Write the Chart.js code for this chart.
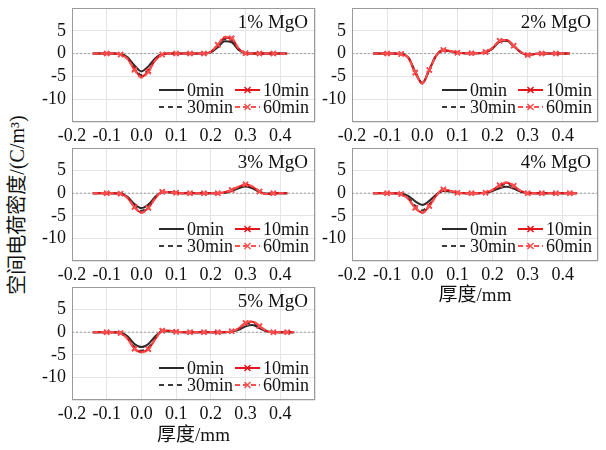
<!DOCTYPE html>
<html>
<head>
<meta charset="utf-8">
<script src="https://cdn.jsdelivr.net/npm/chart.js@4.4.1/dist/chart.umd.min.js"></script>
<style>
body { margin: 0; background: #fff; width: 606px; height: 450px; position: relative; overflow: hidden; }
canvas { position: absolute; }
#ytitle {
    position: absolute; left: 15px; top: 205px;
    transform: translate(-50%, -50%) rotate(-90deg);
    white-space: nowrap; font: 20px 'Liberation Serif', 'Noto Sans CJK SC'; color: #111;
}
</style>
</head>
<body>
<div id="ytitle">空间电荷密度/(C/m³)</div>
<canvas id="c1"></canvas>
<canvas id="c2"></canvas>
<canvas id="c3"></canvas>
<canvas id="c4"></canvas>
<canvas id="c5"></canvas>
<script>
// 厚度 (mm) — общая сетка по x
const thickness = [-0.14, -0.12, -0.10, -0.08, -0.06, -0.04, -0.02, 0.00, 0.02, 0.04,
                    0.06, 0.08, 0.10, 0.12, 0.14, 0.16, 0.18, 0.20, 0.22, 0.24,
                    0.26, 0.28, 0.30, 0.32, 0.34, 0.36, 0.38, 0.40, 0.42, 0.44];

const seriesLabels = ['0min', '10min', '30min', '60min'];
const panelNames = ['1% MgO', '2% MgO', '3% MgO', '4% MgO', '5% MgO'];

// 1% MgO
const mgo1_0min  = [0,0,0,0,-0.1,-0.8,-2.6,-3.9,-2.8,-1.0,-0.1,0,0,0,0,0,0,0.3,1.4,2.7,2.5,0.8,0.1,0,0,0,0,0,0];
const mgo1_10min = [0,0,0,0,-0.2,-1.1,-3.4,-5.1,-3.8,-1.4,-0.2,0,0,0,0,0,0,0.4,1.9,3.5,3.3,1.1,0.1,0,0,0,0,0,0];
const mgo1_30min = [0,0,0,0,-0.1,-1.0,-3.1,-4.7,-3.5,-1.2,-0.1,0,0,0,0,0,0,0.3,1.7,3.2,3.0,1.0,0.1,0,0,0,0,0,0];
const mgo1_60min = [0,0,0,0,-0.2,-1.2,-3.6,-5.3,-4.0,-1.5,-0.2,0,0,0,0,0,0,0.4,2.0,3.7,3.4,1.2,0.1,0,0,0,0,0,0];

// 2% MgO
const mgo2_0min  = [0,0,0,0,-0.1,-0.8,-4.0,-6.4,-3.5,-0.4,0.7,0.5,0.2,0.1,0.1,0.1,0.3,1.1,2.6,2.8,1.6,0.3,-0.3,-0.1,0,0,0,0,0];
const mgo2_10min = [0,0,0,0,-0.1,-0.9,-4.2,-6.6,-3.6,-0.4,0.8,0.5,0.2,0.1,0.1,0.1,0.3,1.2,2.8,3.0,1.7,0.3,-0.3,-0.1,0,0,0,0,0];
const mgo2_30min = [0,0,0,0,-0.1,-0.8,-4.1,-6.5,-3.5,-0.4,0.7,0.5,0.2,0.1,0.1,0.1,0.3,1.2,2.7,2.9,1.7,0.4,-0.2,-0.1,0,0,0,0,0];
const mgo2_60min = [0,0,0,0,-0.1,-0.9,-4.1,-6.5,-3.6,-0.5,0.8,0.6,0.2,0.1,0.1,0.1,0.4,1.3,2.8,3.0,1.8,0.4,-0.3,-0.1,0,0,0,0,0];

// 3% MgO
const mgo3_0min  = [0,0,0,0,-0.1,-0.8,-2.4,-3.3,-2.5,-0.8,0.2,0.2,0.1,0,0,0,0,0,0,0.1,0.5,1.1,1.5,1.1,0.3,-0.1,0,0,0];
const mgo3_10min = [0,0,0,0,-0.1,-1.0,-3.0,-4.3,-3.2,-1.1,0.3,0.2,0.1,0,0,0,0,0,0,0.2,0.7,1.4,1.9,1.4,0.4,-0.2,0,0,0];
const mgo3_30min = [0,0,0,0,-0.1,-0.9,-2.8,-3.9,-2.9,-1.0,0.2,0.2,0.1,0,0,0,0,0,0,0.1,0.6,1.3,1.7,1.3,0.4,-0.1,0,0,0];
const mgo3_60min = [0,0,0,0,-0.1,-1.1,-3.1,-4.4,-3.3,-1.2,0.3,0.2,0.1,0,0,0,0,0,0,0.2,0.7,1.5,2.0,1.5,0.4,-0.2,0,0,0];

// 4% MgO
const mgo4_0min  = [0,0,0,0,-0.1,-0.6,-1.8,-2.6,-1.7,-0.3,0.5,0.4,0.1,0,0,0,0.1,0.5,1.1,1.4,1.0,0.3,0,0,0,0,0,0,0,0];
const mgo4_10min = [0,0,0,0,-0.2,-1.2,-3.2,-4.3,-2.8,-0.5,0.8,0.5,0.1,0,0,0,0.1,0.7,1.7,2.3,1.6,0.5,0,0,0,0,0,0,0,0];
const mgo4_30min = [0,0,0,0,-0.1,-1.0,-2.8,-3.8,-2.5,-0.4,0.7,0.5,0.1,0,0,0,0.1,0.6,1.5,2.0,1.4,0.4,0,0,0,0,0,0,0,0];
const mgo4_60min = [0,0,0,0,-0.2,-1.3,-3.3,-4.4,-2.9,-0.6,0.9,0.5,0.1,0,0,0,0.1,0.8,1.8,2.4,1.7,0.5,0,0,0,0,0,0,0,0];

// 5% MgO
const mgo5_0min  = [0,0,0,0,-0.1,-0.9,-2.6,-3.3,-2.6,-0.9,0.2,0.2,0.1,0,0,0,0,0,0,0,0.1,0.5,1.3,1.6,0.9,0.2,0,0,0,0];
const mgo5_10min = [0,0,0,0,-0.2,-1.4,-3.6,-4.4,-3.7,-1.5,0.3,0.3,0.1,0,0,0,0,0,0,0,0.2,0.8,2.0,2.3,1.3,0.3,0,0,0,0];
const mgo5_30min = [0,0,0,0,-0.1,-1.2,-3.3,-4.1,-3.4,-1.3,0.3,0.3,0.1,0,0,0,0,0,0,0,0.2,0.7,1.8,2.1,1.2,0.3,0,0,0,0];
const mgo5_60min = [0,0,0,0,-0.2,-1.5,-3.7,-4.5,-3.8,-1.6,0.4,0.3,0.1,0,0,0,0,0,0,0,0.2,0.9,2.1,2.4,1.4,0.3,0,0,0,0];

const panelSeries = [
    [mgo1_0min, mgo1_10min, mgo1_30min, mgo1_60min],
    [mgo2_0min, mgo2_10min, mgo2_30min, mgo2_60min],
    [mgo3_0min, mgo3_10min, mgo3_30min, mgo3_60min],
    [mgo4_0min, mgo4_10min, mgo4_30min, mgo4_60min],
    [mgo5_0min, mgo5_10min, mgo5_30min, mgo5_60min]
];

// стиль линий: 0min, 10min, 30min, 60min
const lineStyles = [
    { color: '#2b2b2b', dash: [],     marker: false, order: 4 },
    { color: '#e3161c', dash: [],     marker: true,  order: 2 },
    { color: '#3a3a3a', dash: [5, 4], marker: false, order: 3 },
    { color: '#ff5050', dash: [5, 3], marker: true,  order: 1 }
];

// положение канвасов и области графика
const layouts = [
    { left: 0,   top: 0,   w: 320, h: 145, yw: 72, xh: 23, pt: 8, pr: 5 },
    { left: 310, top: 0,   w: 292, h: 145, yw: 42, xh: 23, pt: 8, pr: 4 },
    { left: 0,   top: 140, w: 320, h: 145, yw: 72, xh: 24, pt: 8, pr: 5 },
    { left: 310, top: 140, w: 292, h: 170, yw: 42, xh: 49, pt: 8, pr: 4, title: true },
    { left: 0,   top: 280, w: 320, h: 170, yw: 72, xh: 50, pt: 7, pr: 5, title: true }
];

const serif = "'Liberation Serif', 'Noto Sans CJK SC'";

// рамка, пунктир на нуле, подпись панели и легенда внутри области
const panelDecor = {
    id: 'panelDecor',
    beforeDatasetsDraw(chart) {
        const { ctx, chartArea: a, scales } = chart;
        const y0 = scales.y.getPixelForValue(0);
        ctx.save();
        ctx.strokeStyle = '#a0a0a0';
        ctx.lineWidth = 1;
        ctx.setLineDash([2, 2]);
        ctx.beginPath();
        ctx.moveTo(a.left, y0);
        ctx.lineTo(a.right, y0);
        ctx.stroke();
        ctx.restore();
    },
    afterDraw(chart, args, opts) {
        const { ctx, chartArea: a } = chart;
        ctx.save();
        ctx.strokeStyle = '#9a9a9a';
        ctx.lineWidth = 1;
        ctx.strokeRect(a.left + 0.5, a.top + 0.5, a.right - a.left - 1, a.bottom - a.top - 1);

        ctx.fillStyle = '#111';
        ctx.font = '19px ' + serif;
        ctx.textAlign = 'right';
        ctx.textBaseline = 'middle';
        ctx.fillText(opts.text, a.right - 7, a.top + 15);

        ctx.font = '18px ' + serif;
        ctx.textAlign = 'left';
        chart.data.datasets.forEach((ds, i) => {
            const col = i % 2, row = Math.floor(i / 2);
            const y = a.bottom - (row === 0 ? 32 : 15);
            const x1 = col === 0 ? a.right - 156 : a.right - 80;
            const x2 = x1 + 25;
            ctx.strokeStyle = ds.borderColor;
            ctx.lineWidth = 2;
            ctx.setLineDash(ds.borderDash);
            ctx.beginPath();
            ctx.moveTo(x1, y);
            ctx.lineTo(x2, y);
            ctx.stroke();
            ctx.setLineDash([]);
            if (ds.pointStyle === 'crossRot') {
                const cx = (x1 + x2) / 2, r = 3;
                ctx.lineWidth = 1.5;
                ctx.beginPath();
                ctx.moveTo(cx - r, y - r); ctx.lineTo(cx + r, y + r);
                ctx.moveTo(cx - r, y + r); ctx.lineTo(cx + r, y - r);
                ctx.stroke();
            }
            ctx.fillStyle = '#111';
            ctx.fillText(ds.label, x2 + 3, y + 1);
        });
        ctx.restore();
    }
};

const charts = panelSeries.map((series, p) => {
    const L = layouts[p];
    const cv = document.getElementById('c' + (p + 1));
    cv.style.left = L.left + 'px';
    cv.style.top = L.top + 'px';
    cv.style.width = L.w + 'px';
    cv.style.height = L.h + 'px';
    cv.width = L.w;
    cv.height = L.h;

    const datasets = series.map((vals, s) => ({
        label: seriesLabels[s],
        data: vals.map((v, i) => ({ x: thickness[i], y: v })),
        borderColor: lineStyles[s].color,
        backgroundColor: lineStyles[s].color,
        borderWidth: 2,
        borderDash: lineStyles[s].dash,
        order: lineStyles[s].order,
        cubicInterpolationMode: 'monotone',
        pointStyle: lineStyles[s].marker ? 'crossRot' : false,
        pointBorderWidth: 1.5,
        pointRadius: lineStyles[s].marker
            ? (c => (c.dataIndex % 2 === 0 && c.dataIndex > 0 && c.dataIndex < vals.length - 1) ? 3.5 : 0)
            : 0,
        fill: false
    }));

    return new Chart(cv, {
        type: 'line',
        data: { datasets },
        plugins: [panelDecor],
        options: {
            responsive: false,
            animation: false,
            events: [],
            layout: { padding: { top: L.pt, right: L.pr, left: 0, bottom: 0 } },
            plugins: {
                legend: { display: false },
                tooltip: { enabled: false },
                panelDecor: { text: panelNames[p] }
            },
            scales: {
                x: {
                    type: 'linear',
                    min: -0.2,
                    max: 0.5,
                    afterFit: s => { s.height = L.xh; s.paddingLeft = 0; s.paddingRight = 0; },
                    border: { display: false },
                    grid: { color: '#e4e4e4', drawTicks: false },
                    ticks: {
                        stepSize: 0.1,
                        autoSkip: false,
                        maxRotation: 0,
                        padding: 3,
                        color: '#111',
                        font: { family: serif, size: 18 },
                        callback: v => v > 0.45 ? '' : (Math.abs(v) < 1e-9 ? '0.0' : v.toFixed(1))
                    },
                    title: {
                        display: !!L.title,
                        text: '厚度/mm',
                        color: '#111',
                        font: { family: serif, size: 19 },
                        padding: { top: 0, bottom: 3 }
                    }
                },
                y: {
                    min: -15,
                    max: 10,
                    afterFit: s => { s.width = L.yw; s.paddingTop = 0; s.paddingBottom = 0; },
                    border: { display: false },
                    grid: { color: '#e4e4e4', drawTicks: false },
                    ticks: {
                        stepSize: 5,
                        autoSkip: false,
                        padding: 6,
                        color: '#111',
                        font: { family: serif, size: 18 },
                        callback: v => (v === 10 || v === -15) ? '' : v
                    }
                }
            }
        }
    });
});
</script>
</body>
</html>
